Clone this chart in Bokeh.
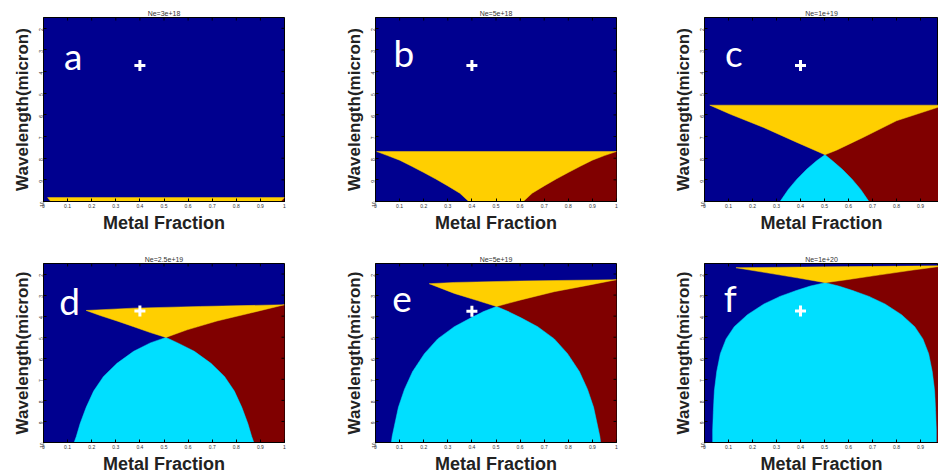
import math
from bokeh.plotting import figure
from bokeh.layouts import row, column
from bokeh.models import Range1d, FixedTicker
from bokeh.embed import file_html
from bokeh.resources import INLINE
from bokeh.core.properties import value

# ---------------- data ----------------
PANEL_LETTERS = ["a", "b", "c", "d", "e", "f"]
PANEL_TITLES = ["Ne=3e+18", "Ne=5e+18", "Ne=1e+19", "Ne=2.5e+19", "Ne=5e+19", "Ne=1e+20"]

X_TICKS = [0, 0.1, 0.2, 0.3, 0.4, 0.5, 0.6, 0.7, 0.8, 0.9, 1]
X_TICK_LABELS = ["0", "0.1", "0.2", "0.3", "0.4", "0.5", "0.6", "0.7", "0.8", "0.9", "1"]
Y_TICKS = [2, 3, 4, 5, 6, 7, 8, 9, 10]
Y_TICK_LABELS = ["2", "3", "4", "5", "6", "7", "8", "9", "10"]
X_LIMITS = [0, 1]
LAM_LIMITS = [1.5, 10]

# white "+" marker and panel-letter anchor (metal fraction, wavelength)
MARK_X = [0.4, 0.4, 0.4, 0.4, 0.4, 0.4]
MARK_LAM = [3.72, 3.72, 3.72, 3.75, 3.77, 3.75]
LETTER_X = [0.085, 0.075, 0.085, 0.065, 0.07, 0.08]
LETTER_LAM = [3.25, 3.13, 3.10, 3.27, 3.19, 3.11]

# Panel a  (Ne=3e+18)
a_top_x = [0.017, 1.0]
a_top_lam = [9.82, 9.82]
a_aup_x = [0.017, 0.03]
a_aup_lam = [9.82, 10.0]
a_bup_x = [1.0, 0.985]
a_bup_lam = [9.82, 10.0]
a_alow_x, a_alow_lam, a_blow_x, a_blow_lam = [], [], [], []

# Panel b  (Ne=5e+18)
b_top_x = [0.005, 1.0]
b_top_lam = [7.69, 7.69]
b_aup_x = [0.005, 0.05, 0.1, 0.15, 0.2, 0.25, 0.3, 0.35, 0.387]
b_aup_lam = [7.69, 7.88, 8.09, 8.37, 8.66, 8.96, 9.28, 9.62, 10.0]
b_bup_x = [1.0, 0.95, 0.9, 0.85, 0.8, 0.75, 0.7, 0.65, 0.613]
b_bup_lam = [7.69, 7.88, 8.09, 8.37, 8.66, 8.96, 9.28, 9.62, 10.0]
b_alow_x, b_alow_lam, b_blow_x, b_blow_lam = [], [], [], []

# Panel c  (Ne=1e+19)
c_top_x = [0.022, 1.0]
c_top_lam = [5.55, 5.55]
c_aup_x = [0.022, 0.108, 0.246, 0.385, 0.502]
c_aup_lam = [5.55, 5.97, 6.58, 7.27, 7.84]
c_bup_x = [1.0, 0.8, 0.661, 0.55, 0.502]
c_bup_lam = [5.55, 6.27, 7.04, 7.63, 7.84]
c_alow_x = [0.502, 0.533, 0.574, 0.615, 0.65, 0.674, 0.685]
c_alow_lam = [7.84, 8.12, 8.51, 8.97, 9.43, 9.82, 10.0]
c_blow_x = [0.502, 0.467, 0.426, 0.385, 0.35, 0.326, 0.315]
c_blow_lam = [7.84, 8.12, 8.51, 8.97, 9.43, 9.82, 10.0]

# Panel d  (Ne=2.5e+19)
d_top_x = [0.177, 0.374, 0.651, 1.0]
d_top_lam = [3.73, 3.62, 3.54, 3.46]
d_aup_x = [0.177, 0.235, 0.305, 0.374, 0.443, 0.508]
d_aup_lam = [3.73, 3.97, 4.23, 4.50, 4.78, 5.01]
d_bup_x = [1.0, 0.859, 0.72, 0.596, 0.508]
d_bup_lam = [3.46, 3.85, 4.23, 4.65, 5.01]
d_alow_x = [0.508, 0.557, 0.626, 0.695, 0.751, 0.792, 0.823, 0.848, 0.864, 0.873]
d_alow_lam = [5.01, 5.27, 5.67, 6.24, 6.86, 7.56, 8.33, 9.10, 9.72, 10.0]
d_blow_x = [0.508, 0.443, 0.374, 0.305, 0.249, 0.208, 0.177, 0.152, 0.136, 0.127]
d_blow_lam = [5.01, 5.27, 5.67, 6.24, 6.86, 7.56, 8.33, 9.10, 9.72, 10.0]

# Panel e  (Ne=5e+19)
e_top_x = [0.223, 0.327, 0.603, 1.0]
e_top_lam = [2.46, 2.40, 2.33, 2.27]
e_aup_x = [0.223, 0.327, 0.423, 0.502]
e_aup_lam = [2.46, 2.92, 3.26, 3.54]
e_bup_x = [1.0, 0.879, 0.741, 0.603, 0.502]
e_bup_lam = [2.27, 2.54, 2.84, 3.23, 3.54]
e_alow_x = [0.502, 0.549, 0.604, 0.673, 0.742, 0.797, 0.846, 0.88, 0.905, 0.921, 0.931, 0.934]
e_alow_lam = [3.54, 3.77, 4.08, 4.50, 5.08, 5.78, 6.63, 7.48, 8.33, 9.18, 9.72, 10.0]
e_blow_x = [0.502, 0.451, 0.396, 0.327, 0.258, 0.203, 0.154, 0.12, 0.095, 0.079, 0.069, 0.066]
e_blow_lam = [3.54, 3.77, 4.08, 4.50, 5.08, 5.78, 6.63, 7.48, 8.33, 9.18, 9.72, 10.0]

# Panel f  (Ne=1e+20)
f_top_x = [0.131, 0.5, 1.0]
f_top_lam = [1.70, 1.66, 1.61]
f_aup_x = [0.131, 0.248, 0.386, 0.503]
f_aup_lam = [1.70, 1.92, 2.18, 2.41]
f_bup_x = [1.0, 0.869, 0.731, 0.593, 0.503]
f_bup_lam = [1.61, 1.81, 2.04, 2.27, 2.41]
f_alow_x = [0.503, 0.559, 0.614, 0.683, 0.752, 0.821, 0.876, 0.91, 0.934, 0.949, 0.959, 0.963, 0.966, 0.966]
f_alow_lam = [2.41, 2.57, 2.77, 3.05, 3.42, 3.93, 4.50, 5.08, 5.78, 6.63, 7.56, 8.48, 9.41, 10.0]
f_blow_x = [0.503, 0.441, 0.386, 0.317, 0.248, 0.179, 0.124, 0.09, 0.066, 0.051, 0.041, 0.037, 0.034, 0.034]
f_blow_lam = [2.41, 2.57, 2.77, 3.05, 3.42, 3.93, 4.50, 5.08, 5.78, 6.63, 7.56, 8.48, 9.41, 10.0]

PANELS = [
    (a_top_x, a_top_lam, a_aup_x, a_aup_lam, a_bup_x, a_bup_lam, a_alow_x, a_alow_lam, a_blow_x, a_blow_lam),
    (b_top_x, b_top_lam, b_aup_x, b_aup_lam, b_bup_x, b_bup_lam, b_alow_x, b_alow_lam, b_blow_x, b_blow_lam),
    (c_top_x, c_top_lam, c_aup_x, c_aup_lam, c_bup_x, c_bup_lam, c_alow_x, c_alow_lam, c_blow_x, c_blow_lam),
    (d_top_x, d_top_lam, d_aup_x, d_aup_lam, d_bup_x, d_bup_lam, d_alow_x, d_alow_lam, d_blow_x, d_blow_lam),
    (e_top_x, e_top_lam, e_aup_x, e_aup_lam, e_bup_x, e_bup_lam, e_alow_x, e_alow_lam, e_blow_x, e_blow_lam),
    (f_top_x, f_top_lam, f_aup_x, f_aup_lam, f_bup_x, f_bup_lam, f_alow_x, f_alow_lam, f_blow_x, f_blow_lam),
]

# ---------------- style ----------------
BLUE = "#00008F"
CYAN = "#00DFFF"
YELLOW = "#FFCF00"
RED = "#800000"
AXIS_FONT = "Liberation Sans"
LETTER_FONT = "Lato"
TICK_LEN_PX = 3

# layout (pixels)
COL_W = [340, 329, 269]
COL_BL = [43, 35, 35]
COL_BR = [56, 53, 0]
COL_PX_PER_UNIT = [241.0, 241.0, 240.0]
ROW_H = [240, 236]
ROW_BT = [17, 23]
ROW_BB = [39, 30]


def make_panel(i):
    r, c = divmod(i, 3)
    top_x, top_l, aup_x, aup_l, bup_x, bup_l, alow_x, alow_l, blow_x, blow_l = PANELS[i]
    frame_w = COL_W[c] - COL_BL[c] - COL_BR[c]
    frame_h = ROW_H[r] - ROW_BT[r] - ROW_BB[r]
    xmax = min(X_LIMITS[1], X_LIMITS[0] + frame_w / COL_PX_PER_UNIT[c])
    p = figure(width=COL_W[c], height=ROW_H[r],
               x_range=Range1d(X_LIMITS[0], xmax),
               y_range=Range1d(LAM_LIMITS[1], LAM_LIMITS[0]),
               min_border_left=COL_BL[c], min_border_right=COL_BR[c],
               min_border_top=ROW_BT[r], min_border_bottom=ROW_BB[r],
               output_backend="svg", toolbar_location=None,
               background_fill_color=BLUE, border_fill_color="white",
               title=PANEL_TITLES[i])
    p.grid.visible = False
    p.outline_line_color = "black"
    p.outline_line_width = 1
    p.title.text_font = AXIS_FONT
    p.title.text_font_size = "7px"
    p.title.text_font_style = "normal"
    p.title.text_color = "#333333"
    p.title.align = "center"
    p.title.standoff = 2

    xe, le = X_LIMITS[1], LAM_LIMITS[1]
    yx = list(top_x) + list(bup_x) + list(reversed(aup_x))
    yl = list(top_l) + list(bup_l) + list(reversed(aup_l))
    rx = list(bup_x) + list(alow_x) + [xe]
    rl = list(bup_l) + list(alow_l) + [le]
    p.patch(rx, rl, fill_color=RED, line_color=RED, line_width=0.5)
    if alow_x:
        cx = list(blow_x) + list(reversed(alow_x))
        cl = list(blow_l) + list(reversed(alow_l))
        p.patch(cx, cl, fill_color=CYAN, line_color=CYAN, line_width=0.5)
    p.patch(yx, yl, fill_color=YELLOW, line_color=YELLOW, line_width=0.5)

    p.text(x=[LETTER_X[i]], y=[LETTER_LAM[i]], text=[PANEL_LETTERS[i]],
           text_color="white", text_font=value(LETTER_FONT), text_font_size="37px",
           text_baseline="alphabetic", text_align="left")
    p.scatter(x=[MARK_X[i]], y=[MARK_LAM[i]], marker="cross", size=11,
              line_color="white", line_width=3)

    # box ticks along the top edge (and right edge when it is inside the picture)
    dlam = TICK_LEN_PX * (LAM_LIMITS[1] - LAM_LIMITS[0]) / frame_h
    dx = TICK_LEN_PX * (xmax - X_LIMITS[0]) / frame_w
    tx = [t for t in X_TICKS if t <= xmax]
    p.segment(x0=tx, x1=tx, y0=[LAM_LIMITS[0]] * len(tx), y1=[LAM_LIMITS[0] + dlam] * len(tx),
              line_color="black", line_width=1)
    if xmax >= X_LIMITS[1]:
        p.segment(x0=[xmax] * len(Y_TICKS), x1=[xmax - dx] * len(Y_TICKS), y0=Y_TICKS, y1=Y_TICKS,
                  line_color="black", line_width=1)

    p.xaxis.ticker = FixedTicker(ticks=X_TICKS)
    p.xaxis.major_label_overrides = {t: s for t, s in zip(X_TICKS, X_TICK_LABELS)}
    p.yaxis.ticker = FixedTicker(ticks=Y_TICKS)
    p.yaxis.major_label_overrides = {t: s for t, s in zip(Y_TICKS, Y_TICK_LABELS)}
    p.yaxis.major_label_orientation = math.pi / 2
    p.xaxis.axis_label = "Metal Fraction"
    p.yaxis.axis_label = "Wavelength(micron)"
    for ax in (p.xaxis, p.yaxis):
        ax.axis_label_text_font = AXIS_FONT
        ax.axis_label_text_font_style = "bold"
        ax.axis_label_text_color = "#222222"
        ax.major_label_text_font = AXIS_FONT
        ax.major_label_text_font_size = "5px"
        ax.major_label_text_color = "#333333"
        ax.major_label_standoff = 2
        ax.major_tick_in = TICK_LEN_PX
        ax.major_tick_out = 0
        ax.minor_tick_line_color = None
        ax.axis_line_color = "black"
        ax.major_tick_line_color = "black"
    p.xaxis.axis_label_text_font_size = "18px"
    p.yaxis.axis_label_text_font_size = "17px"
    p.xaxis.axis_label_standoff = 2
    p.yaxis.axis_label_standoff = 3
    return p


panels = [make_panel(i) for i in range(6)]
layout = column(row(*panels[:3]), row(*panels[3:]))

open("out.html", "w").write(file_html(layout, INLINE))
